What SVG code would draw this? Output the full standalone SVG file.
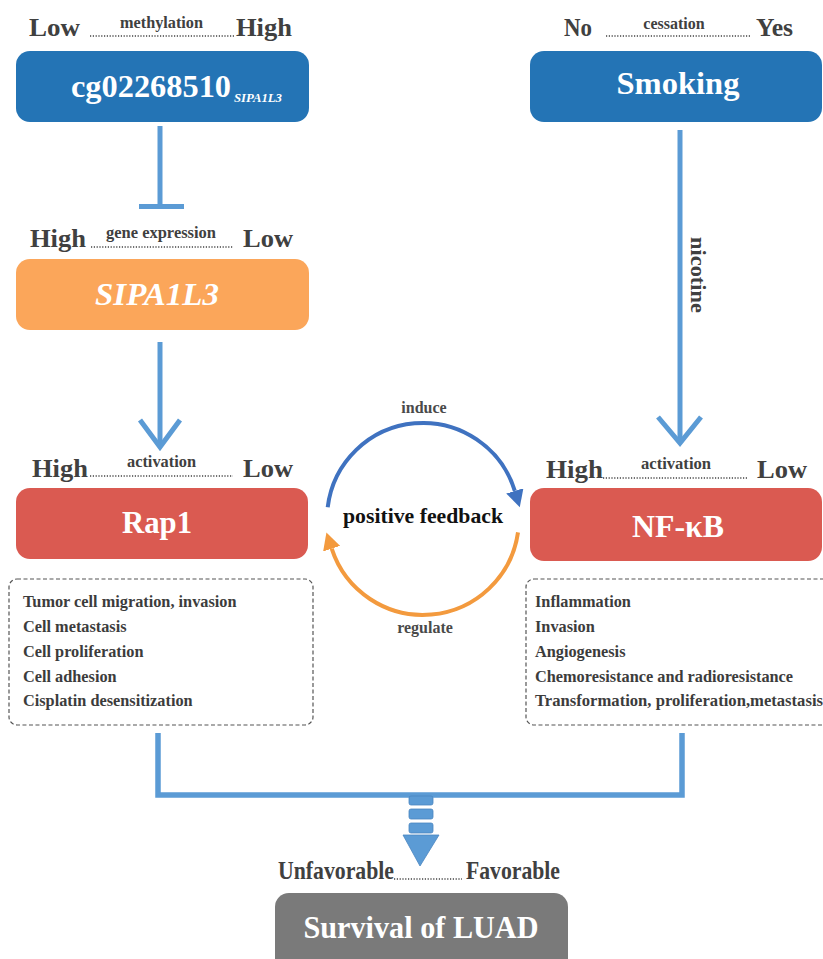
<svg xmlns="http://www.w3.org/2000/svg" width="823" height="959" viewBox="0 0 823 959">
<style>
text{font-family:"Liberation Serif","Times New Roman",serif;font-weight:bold}
.lbl{fill:#404040;font-size:26px}
.sm{fill:#404040;font-size:16px}
.node{fill:#fff;font-size:31px;text-anchor:middle}
.dots{stroke:#444;stroke-width:1.4;stroke-dasharray:1.2 1.6;fill:none}
.conn{stroke:#5b9bd5;stroke-width:5;fill:none}
.list{fill:#3c3c3c;font-size:16.3px}
.dash{fill:none;stroke:#555;stroke-width:1.2;stroke-dasharray:4 2.5}
</style>
<defs>
<marker id="ab" markerUnits="userSpaceOnUse" markerWidth="18" markerHeight="18" refX="0" refY="9" orient="auto"><path d="M0,0 L17,9 L0,18 z" fill="#3f72c0"/></marker>
<marker id="ao" markerUnits="userSpaceOnUse" markerWidth="18" markerHeight="18" refX="0" refY="9" orient="auto"><path d="M0,0 L17,9 L0,18 z" fill="#f39a3e"/></marker>
</defs>
<rect width="823" height="959" fill="#fff"/>

<g id="cg02268510">
<text class="lbl" x="29" y="36" textLength="51" lengthAdjust="spacingAndGlyphs">Low</text>
<text class="sm" x="120" y="28" textLength="83" lengthAdjust="spacingAndGlyphs" font-size="15">methylation</text>
<line class="dots" x1="90" y1="36" x2="234" y2="36"/>
<text class="lbl" x="236" y="36" textLength="56" lengthAdjust="spacingAndGlyphs">High</text>
<rect x="16" y="51" width="293" height="71" rx="14" fill="#2474b5"/>
<text x="71" y="97" fill="#fff" font-size="32" textLength="160" lengthAdjust="spacingAndGlyphs">cg02268510</text>
<text x="234" y="102" fill="#fff" font-size="12.5" font-style="italic" textLength="48" lengthAdjust="spacingAndGlyphs">SIPA1L3</text>
</g>

<g id="smoking">
<text class="lbl" x="564" y="36" font-size="21" textLength="28" lengthAdjust="spacingAndGlyphs">No</text>
<text class="sm" x="674" y="29" text-anchor="middle" font-size="15">cessation</text>
<line class="dots" x1="606" y1="36" x2="750" y2="36"/>
<text class="lbl" x="756" y="36" font-size="21" textLength="37" lengthAdjust="spacingAndGlyphs">Yes</text>
<rect x="530" y="51" width="292" height="71" rx="14" fill="#2474b5"/>
<text class="node" x="678" y="94" font-size="32" textLength="123" lengthAdjust="spacingAndGlyphs">Smoking</text>
</g>

<g id="sipa1l3">
<text class="lbl" x="30" y="247" textLength="56" lengthAdjust="spacingAndGlyphs">High</text>
<text class="sm" x="106" y="238" textLength="110" lengthAdjust="spacingAndGlyphs" font-size="15">gene expression</text>
<line class="dots" x1="91" y1="247" x2="233" y2="247"/>
<text class="lbl" x="243" y="247" textLength="50" lengthAdjust="spacingAndGlyphs">Low</text>
<rect x="16" y="259" width="293" height="71" rx="14" fill="#fba65a"/>
<text class="node" x="157" y="305" font-size="32" font-style="italic" textLength="124" lengthAdjust="spacingAndGlyphs">SIPA1L3</text>
</g>

<g id="rap1">
<text class="lbl" x="32" y="477" textLength="56" lengthAdjust="spacingAndGlyphs">High</text>
<text class="sm" x="127" y="467" textLength="69" lengthAdjust="spacingAndGlyphs" font-size="15">activation</text>
<line class="dots" x1="90" y1="476" x2="233" y2="476"/>
<text class="lbl" x="243" y="477" textLength="50" lengthAdjust="spacingAndGlyphs">Low</text>
<rect x="16" y="488" width="292" height="71" rx="14" fill="#da5a51"/>
<text class="node" x="157" y="533" textLength="70" lengthAdjust="spacingAndGlyphs">Rap1</text>
</g>

<g id="nfkb">
<text class="lbl" x="546" y="478" textLength="57" lengthAdjust="spacingAndGlyphs">High</text>
<text class="sm" x="641" y="469" textLength="70" lengthAdjust="spacingAndGlyphs" font-size="15">activation</text>
<line class="dots" x1="603" y1="478" x2="747" y2="478"/>
<text class="lbl" x="757" y="478" textLength="50" lengthAdjust="spacingAndGlyphs">Low</text>
<rect x="530" y="488" width="292" height="73" rx="14" fill="#da5a51"/>
<text class="node" x="678" y="537" textLength="92" lengthAdjust="spacingAndGlyphs">NF-κB</text>
</g>

<g id="rap1-effects">
<rect class="dash" x="9" y="579" width="304" height="146" rx="8"/>
<text class="list" x="23" y="607">Tumor cell migration, invasion</text>
<text class="list" x="23" y="632">Cell metastasis</text>
<text class="list" x="23" y="657">Cell proliferation</text>
<text class="list" x="23" y="682">Cell adhesion</text>
<text class="list" x="23" y="706">Cisplatin desensitization</text>
</g>

<g id="nfkb-effects">
<rect class="dash" x="526" y="579" width="310" height="146" rx="8"/>
<text class="list" x="535" y="607">Inflammation</text>
<text class="list" x="535" y="632">Invasion</text>
<text class="list" x="535" y="657">Angiogenesis</text>
<text class="list" x="535" y="682">Chemoresistance and radioresistance</text>
<text class="list" x="535" y="706" textLength="288" lengthAdjust="spacingAndGlyphs">Transformation, proliferation,metastasis</text>
</g>

<g id="feedback">
<text x="423" y="523" text-anchor="middle" fill="#111" font-size="22" textLength="160" lengthAdjust="spacingAndGlyphs">positive feedback</text>
</g>

<g id="survival">
<text class="lbl" x="278" y="879" font-size="21" textLength="116" lengthAdjust="spacingAndGlyphs">Unfavorable</text>
<line class="dots" x1="394" y1="879" x2="462" y2="879"/>
<text class="lbl" x="466" y="879" font-size="21" textLength="94" lengthAdjust="spacingAndGlyphs">Favorable</text>
<rect x="275" y="893" width="293" height="80" rx="14" fill="#7a7a7a"/>
<text class="node" x="421" y="938" font-size="30" textLength="235" lengthAdjust="spacingAndGlyphs">Survival of LUAD</text>
</g>

<g id="connectors">
<path class="conn" d="M160 126 V206.5 M139 206.5 H184"/>
<path class="conn" d="M160 342 V447"/>
<path class="conn" d="M140 420 L160 447 L180 420" stroke-linejoin="miter"/>
<path class="conn" d="M680 130 V442"/>
<path class="conn" d="M658 417 L680 443 L701 417" stroke-linejoin="miter"/>
<text transform="translate(691,275) rotate(90)" text-anchor="middle" fill="#404040" font-size="20" textLength="76" lengthAdjust="spacingAndGlyphs">nicotine</text>
<path d="M327.7 507.3 A96 96 0 0 1 514.8 490.9" fill="none" stroke="#3f72c0" stroke-width="4" marker-end="url(#ab)"/>
<path d="M518 532.4 A96 96 0 0 1 331.7 548.7" fill="none" stroke="#f39a3e" stroke-width="4" marker-end="url(#ao)"/>
<text x="424" y="413" text-anchor="middle" fill="#4a4a4a" font-size="16">induce</text>
<text x="425" y="633" text-anchor="middle" fill="#4a4a4a" font-size="16">regulate</text>
<path d="M158 733 V795 H682 V733" fill="none" stroke="#5b9bd5" stroke-width="5.5"/>
<g fill="#5b9bd5" stroke="#4a85c0" stroke-width="0.8">
<rect x="409" y="796" width="24" height="9" rx="2"/>
<rect x="409" y="809" width="24" height="10" rx="2"/>
<rect x="409" y="823" width="24" height="10" rx="2"/>
<path d="M403 835 H439 L420 866 Z" stroke-linejoin="round"/>
</g>
</g>
</svg>
